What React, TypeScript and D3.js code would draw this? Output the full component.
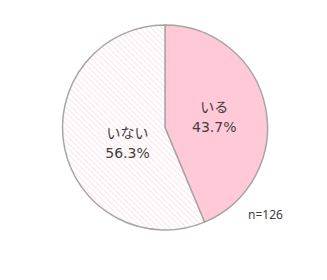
import React from "react";
import * as d3 from "d3";

const categories = ["いる", "いない"];
const values = [43.7, 56.3];
const sampleLabel = "n=126";

export default function App() {
  const width = 327;
  const height = 280;
  const cx = 165;
  const cy = 127.5;
  const r = 102.5;
  const pie = d3.pie<number>().sort(null).value((d) => d);
  const arcs = pie(values);
  const arc = d3.arc<d3.PieArcDatum<number>>().innerRadius(0).outerRadius(r);
  const labelNudge: [number, number][] = [[-1, 0], [12.7, 5.9]];
  const fills = ["#FFC9D8", "url(#hatch)"];
  const font = "'DejaVu Sans', 'Noto Sans CJK JP', sans-serif";
  return (
    <svg width={width} height={height} style={{ position: "absolute", left: 0, top: 0 }}>
      <defs>
        <pattern id="hatch" patternUnits="userSpaceOnUse" width="4" height="4" patternTransform="rotate(-45)">
          <rect width="4" height="4" fill="#FFFFFF" />
          <line x1="0" y1="0" x2="0" y2="4" stroke="#FBD8E2" strokeWidth="1.4" />
        </pattern>
      </defs>
      <rect width={width} height={height} fill="#fff" />
      <g transform={`translate(${cx},${cy})`}>
        {arcs.map((a, i) => (
          <path key={i} d={arc(a) || ""} fill={fills[i]} stroke="#A6A6A6" strokeWidth={1.5} />
        ))}
        {arcs.map((a, i) => {
          const [x0, y0] = arc.centroid(a);
          const x = x0 + labelNudge[i][0];
          const y = y0 + labelNudge[i][1];
          return (
            <text key={"t" + i} textAnchor="middle" fill="#404040" fontFamily={font} fontSize={14}>
              <tspan x={x} y={y - 5.5}>{categories[i]}</tspan>
              <tspan x={x} y={y + 14.5}>{values[i].toFixed(1)}%</tspan>
            </text>
          );
        })}
      </g>
      <text x={248} y={219} fill="#404040" fontFamily="'Noto Sans', sans-serif" fontSize={12}>{sampleLabel}</text>
    </svg>
  );
}
